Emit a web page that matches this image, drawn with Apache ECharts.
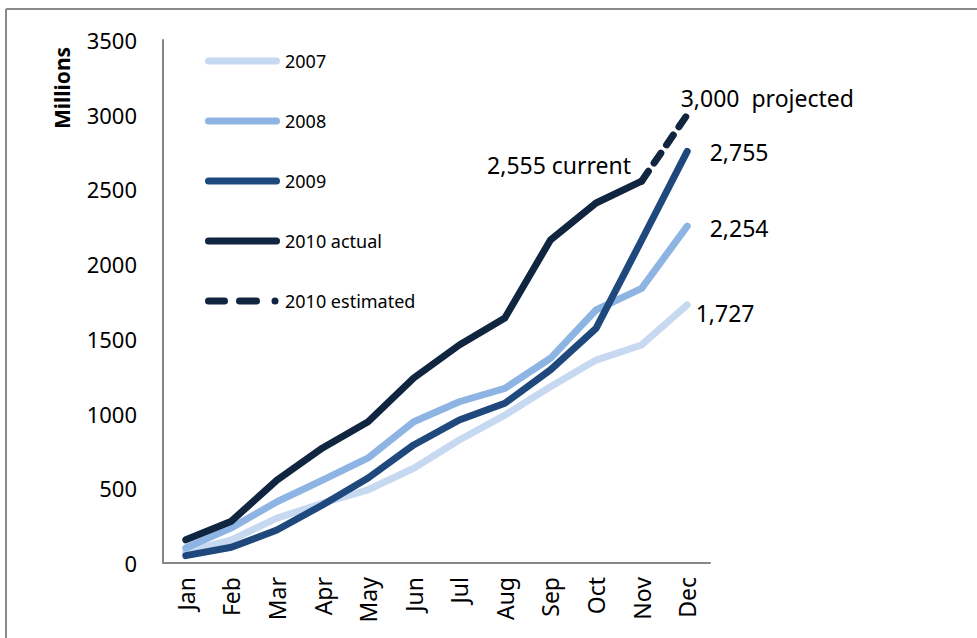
<!DOCTYPE html>
<html>
<head>
<meta charset="utf-8">
<script src="https://cdn.jsdelivr.net/npm/echarts@6/dist/echarts.min.js"></script>
<style>html,body{margin:0;padding:0;background:#fff}#c{width:977px;height:638px}</style>
</head>
<body>
<div id="c"></div>
<script>
var months = ['Jan','Feb','Mar','Apr','May','Jun','Jul','Aug','Sep','Oct','Nov','Dec'];
var yTicks = [0, 500, 1000, 1500, 2000, 2500, 3000, 3500];
var s2007 = [75, 154, 300, 400, 490, 634, 823, 990, 1180, 1358, 1459, 1727];
var s2008 = [100, 235, 410, 555, 703, 945, 1079, 1169, 1370, 1693, 1838, 2254];
var s2009 = [49, 105, 221, 388, 569, 790, 957, 1069, 1292, 1570, 2160, 2755];
var s2010actual = [155, 280, 555, 770, 945, 1238, 1459, 1640, 2162, 2409, 2555, null];
var s2010estimated = [null, null, null, null, null, null, null, null, null, null, 2555, 3000];
var seriesNames = ['2007', '2008', '2009', '2010 actual', '2010 estimated'];
var labelDec2007 = '1,727', labelDec2008 = '2,254', labelDec2009 = '2,755';
var labelCurrent = '2,555 current', labelProjected = '3,000  projected';

var FONT = 'Noto Sans';
var colors = ['#C6D9F1', '#8DB4E2', '#1F497D', '#10253F', '#10253F'];

var solidIcon = 'path://M3.5,0H71.5A3.5,3.5,0,0,1,71.5,7H3.5A3.5,3.5,0,0,1,3.5,0Z';
var dashIcon = 'path://M3.5,0H19.5A3.5,3.5,0,0,1,19.5,7H3.5A3.5,3.5,0,0,1,3.5,0Z' +
  'M34.5,0H51.5A3.5,3.5,0,0,1,51.5,7H34.5A3.5,3.5,0,0,1,34.5,0Z' +
  'M70,0A3.5,3.5,0,0,1,70,7A3.5,3.5,0,0,1,70,0Z' +
  'M75,0L75,0.01';

function withLabel(arr, idx, text, pos, dist, off) {
  return arr.map(function (v, i) {
    if (i !== idx) return v;
    return {
      value: v,
      label: { show: true, formatter: text, position: pos, distance: dist, offset: off,
        fontFamily: FONT, fontSize: 23, color: '#000' }
    };
  });
}

function lineSeries(name, data, color, dashed, z) {
  return {
    name: name, type: 'line', data: data, z: z,
    showSymbol: true, symbol: 'circle', symbolSize: 1,
    itemStyle: { color: color },
    lineStyle: { color: color, width: 7, cap: 'round', join: 'round', type: dashed ? [12, 10] : 'solid' },
    label: { show: false },
    silent: true, connectNulls: false
  };
}

var chart = echarts.init(document.getElementById('c'), null, { renderer: 'svg' });
chart.setOption({
  animation: false,
  backgroundColor: '#fff',
  grid: { left: 163, top: 40, width: 547, height: 523, containLabel: false },
  legend: {
    orient: 'vertical', left: 200, top: 47,
    itemWidth: 75, itemHeight: 7, itemGap: 42,
    selectedMode: false,
    textStyle: { fontFamily: FONT, fontSize: 18, color: '#000', lineHeight: 18 },
    data: seriesNames.map(function (n, i) {
      return { name: n, icon: i === 4 ? dashIcon : solidIcon, itemStyle: { color: colors[i], borderWidth: 0 } };
    })
  },
  xAxis: {
    type: 'category', data: months, boundaryGap: true,
    axisLine: { show: true, lineStyle: { color: '#868686', width: 2 } },
    axisTick: { show: false },
    axisLabel: { rotate: 90, margin: 14, fontFamily: FONT, fontSize: 23, color: '#000', interval: 0 },
    splitLine: { show: false }
  },
  yAxis: {
    type: 'value', min: yTicks[0], max: yTicks[yTicks.length - 1], interval: yTicks[1] - yTicks[0],
    axisLine: { show: true, lineStyle: { color: '#868686', width: 2 } },
    axisTick: { show: false },
    axisLabel: { margin: 26, fontFamily: FONT, fontSize: 22, color: '#000', formatter: function (v) { return String(v); } },
    splitLine: { show: false }
  },
  graphic: [
    { type: 'line', shape: { x1: 6, y1: 9, x2: 977, y2: 9 }, style: { stroke: '#8a8a8a', lineWidth: 2 } },
    { type: 'line', shape: { x1: 6, y1: 9, x2: 6, y2: 638 }, style: { stroke: '#8a8a8a', lineWidth: 2 } },
    { type: 'text', x: 62, y: 88, rotation: Math.PI / 2,
      style: { text: 'Millions', font: 'bold 21px "Noto Sans"', fill: '#000', textAlign: 'center', textVerticalAlign: 'middle' } }
  ],
  series: [
    lineSeries(seriesNames[0], withLabel(s2007, 11, labelDec2007, 'right', 8, [0, 8]), colors[0], false, 2),
    lineSeries(seriesNames[1], withLabel(s2008, 11, labelDec2008, 'right', 22, [0, 2]), colors[1], false, 3),
    lineSeries(seriesNames[2], withLabel(s2009, 11, labelDec2009, 'right', 22, [0, 1]), colors[2], false, 4),
    lineSeries(seriesNames[3], withLabel(s2010actual, 10, labelCurrent, 'left', 10, [0, -16]), colors[3], false, 5),
    lineSeries(seriesNames[4], withLabel(s2010estimated, 11, labelProjected, 'right', 0, [-7, -17]), colors[4], true, 6)
  ]
});
</script>
</body>
</html>
